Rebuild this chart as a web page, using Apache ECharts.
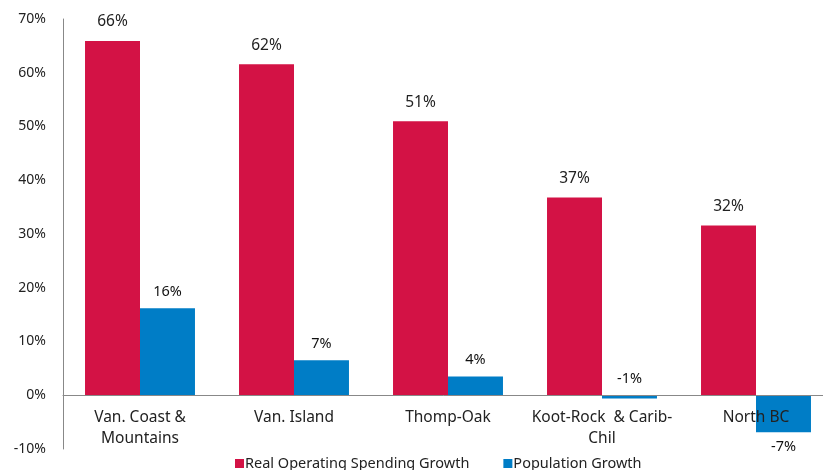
<!DOCTYPE html>
<html><head><meta charset="utf-8">
<script src="https://cdn.jsdelivr.net/npm/echarts@6/dist/echarts.min.js"></script>
<style>html,body{margin:0;padding:0;background:#fff}#c{width:823px;height:470px}</style>
</head><body><div id="c"></div>
<script>
const categories = ['Van. Coast &\nMountains', 'Van. Island', 'Thomp-Oak', 'Koot-Rock  & Carib-\nChil', 'North BC'];
const spendingGrowth = [65.9, 61.6, 51.0, 36.8, 31.6];
const populationGrowth = [16.2, 6.5, 3.5, -0.6, -6.9];
const yTicks = [-10, 0, 10, 20, 30, 40, 50, 60, 70];
const seriesNames = ['Real Operating Spending Growth', 'Population Growth'];

const font = 'Noto Sans';
const chart = echarts.init(document.getElementById('c'));
chart.setOption({
  animation: false,
  textStyle: {fontFamily: font},
  grid: {left: 63, top: 19, width: 770, height: 430, containLabel: false, outerBoundsMode: 'none'},
  legend: {
    data: seriesNames, left: 230, top: 451, itemWidth: 9, itemHeight: 9, itemGap: 34,
    icon: 'rect', textStyle: {fontFamily: font, fontSize: 14.5, color: '#222', padding: [0,0,0,-4]}
  },
  xAxis: {
    type: 'category', data: categories, z: 5,
    axisLine: {onZero: true, lineStyle: {color: '#888', width: 1}},
    axisTick: {show: false},
    axisLabel: {fontFamily: font, fontSize: 15.5, color: '#222', lineHeight: 21, margin: -42, interval: 0}
  },
  yAxis: {
    type: 'value', min: yTicks[0], max: yTicks[yTicks.length-1], interval: 10,
    splitLine: {show: false},
    axisLine: {show: true, lineStyle: {color: '#888'}},
    axisTick: {show: false},
    axisLabel: {fontFamily: font, fontSize: 14, color: '#222', margin: 17, formatter: v => v + '%'}
  },
  series: [
    {
      name: seriesNames[0], type: 'bar', data: spendingGrowth, barGap: '0%', barCategoryGap: '28.6%',
      itemStyle: {color: '#D31245'},
      label: {show: true, position: 'top', distance: 11, fontFamily: font, fontSize: 15.5, color: '#222',
        formatter: p => Math.round(p.value) + '%'}
    },
    {
      name: seriesNames[1], type: 'bar',
      data: populationGrowth.map((v, i) => {
        const d = {value: v};
        if (v < -3) d.label = {position: 'bottom', distance: 7};
        return d;
      }),
      itemStyle: {color: '#007DC6'},
      label: {show: true, position: 'top', distance: 9, fontFamily: font, fontSize: 14.5, color: '#111',
        formatter: p => Math.round(p.value) + '%'}
    }
  ]
});
</script></body></html>
